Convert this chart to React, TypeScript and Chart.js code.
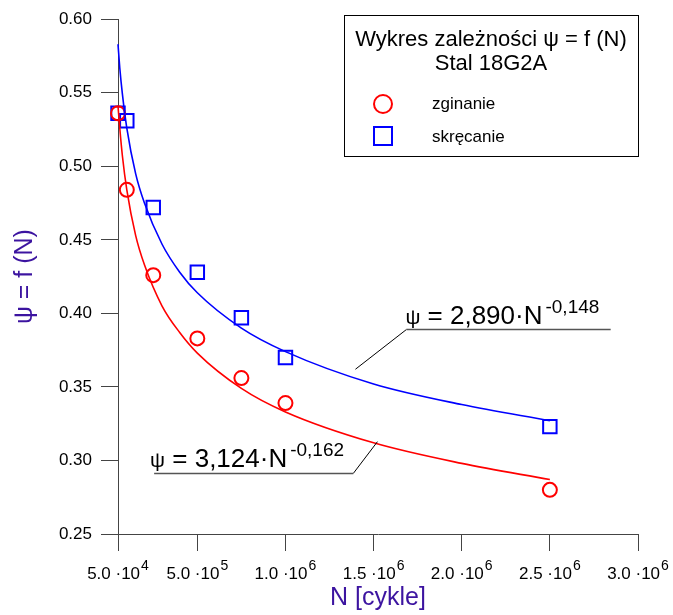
import React, { useEffect, useRef } from 'react';
import { Chart, registerables } from 'chart.js';

Chart.register(...registerables);

const FONT = '"Liberation Sans", Arial, Helvetica, sans-serif';

// X axis ticks (cycles) and their labels
const xTicks = [5e4, 5e5, 1e6, 1.5e6, 2e6, 2.5e6, 3e6];
const xTickMantissa = ['5.0', '5.0', '1.0', '1.5', '2.0', '2.5', '3.0'];
const xTickExp = ['4', '5', '6', '6', '6', '6', '6'];
// Y axis ticks
const yTicks = [0.25, 0.3, 0.35, 0.4, 0.45, 0.5, 0.55, 0.6];

// Measured points
const nPoints = [5e4, 1e5, 2.5e5, 5e5, 7.5e5, 1e6, 2.5e6];
const zginanie = [0.536, 0.484, 0.426, 0.383, 0.356, 0.339, 0.28];
const skrecanie = [0.536, 0.531, 0.472, 0.428, 0.397, 0.37, 0.323];

// Fitted curves
const fitN = [5e4, 6e4, 7.5e4, 1e5, 1.5e5, 2e5, 3e5, 4e5, 5e5, 7.5e5, 1e6, 1.5e6, 2e6, 2.5e6];
const fitZginanie = [0.541, 0.526, 0.507, 0.484, 0.453, 0.433, 0.405, 0.387, 0.373, 0.349, 0.333, 0.312, 0.298, 0.287];
const fitSkrecanie = [0.583, 0.567, 0.549, 0.526, 0.495, 0.475, 0.447, 0.428, 0.414, 0.39, 0.374, 0.352, 0.338, 0.327];

const RED = '#ff0000';
const BLUE = '#0000ff';
const TITLE_COLOR = '#3c14a0';

function drawEquation(ctx: CanvasRenderingContext2D, x: number, baseline: number, coef: string, exp: string) {
  ctx.textAlign = 'left';
  ctx.textBaseline = 'alphabetic';
  ctx.fillStyle = '#000';
  ctx.font = `21px ${FONT}`;
  ctx.fillText('ψ', x, baseline);
  let cx = x + ctx.measureText('ψ').width;
  ctx.font = `26px ${FONT}`;
  const main = ' = ' + coef + '·N';
  ctx.fillText(main, cx, baseline);
  cx += ctx.measureText(main).width + 3;
  ctx.font = `19px ${FONT}`;
  ctx.fillText(exp, cx, baseline - 11);
}

const overlay = {
  id: 'overlay',
  afterDraw(chart: any) {
    const ctx: CanvasRenderingContext2D = chart.ctx;
    const xs = chart.scales.x;
    const ys = chart.scales.y;
    const area = chart.chartArea;
    ctx.save();

    // X tick labels with superscripts
    ctx.fillStyle = '#000';
    ctx.textBaseline = 'alphabetic';
    ctx.textAlign = 'left';
    const base = area.bottom + 45;
    xTicks.forEach((v, i) => {
      const main = xTickMantissa[i] + ' ·10';
      ctx.font = `17px ${FONT}`;
      const w1 = ctx.measureText(main).width;
      ctx.font = `14px ${FONT}`;
      const w2 = ctx.measureText(xTickExp[i]).width;
      const px = xs.getPixelForValue(v);
      const left = px - (w1 + w2 + 1) / 2;
      ctx.font = `17px ${FONT}`;
      ctx.fillText(main, left, base);
      ctx.font = `14px ${FONT}`;
      ctx.fillText(xTickExp[i], left + w1 + 1, base - 9);
    });

    // Axis titles
    ctx.fillStyle = TITLE_COLOR;
    ctx.font = `25px ${FONT}`;
    ctx.textAlign = 'center';
    ctx.textBaseline = 'alphabetic';
    ctx.fillText('N [cykle]', (area.left + area.right) / 2, area.bottom + 71);
    ctx.save();
    ctx.translate(25, (area.top + area.bottom) / 2);
    ctx.rotate(-Math.PI / 2);
    ctx.textBaseline = 'middle';
    ctx.fillText('ψ = f (N)', 0, 0);
    ctx.restore();

    // Legend box
    const lx = 344, ly = 15, lw = area.right - 344, lh = 141;
    ctx.fillStyle = '#fff';
    ctx.fillRect(lx, ly, lw, lh);
    ctx.strokeStyle = '#000';
    ctx.lineWidth = 1;
    ctx.strokeRect(lx + 0.5, ly + 0.5, lw, lh);
    ctx.fillStyle = '#000';
    ctx.textAlign = 'center';
    ctx.font = `22px ${FONT}`;
    const cxL = lx + lw / 2;
    ctx.fillText('Wykres zależności ψ = f (N)', cxL, ly + 31);
    ctx.fillText('Stal 18G2A', cxL, ly + 55);
    ctx.lineWidth = 2;
    ctx.strokeStyle = RED;
    ctx.beginPath();
    ctx.arc(383, ly + 89, 9, 0, Math.PI * 2);
    ctx.stroke();
    ctx.strokeStyle = BLUE;
    ctx.strokeRect(374, ly + 112, 18, 18);
    ctx.fillStyle = '#000';
    ctx.textAlign = 'left';
    ctx.font = `17px ${FONT}`;
    ctx.fillText('zginanie', 432, ly + 94);
    ctx.fillText('skręcanie', 432, ly + 127);

    // Equation annotations
    // blue
    const bTipX = xs.getPixelForValue(1.397e6), bTipY = ys.getPixelForValue(0.362);
    const bElX = xs.getPixelForValue(1.686e6), bElY = ys.getPixelForValue(0.389);
    const bEndX = xs.getPixelForValue(2.845e6);
    ctx.strokeStyle = '#000';
    ctx.lineWidth = 1;
    ctx.beginPath();
    ctx.moveTo(bTipX, bTipY);
    ctx.lineTo(bElX, bElY);
    ctx.stroke();
    ctx.strokeStyle = '#555';
    ctx.lineWidth = 1.5;
    ctx.beginPath();
    ctx.moveTo(bElX, bElY);
    ctx.lineTo(bEndX, bElY);
    ctx.stroke();
    drawEquation(ctx, bElX - 1, bElY - 6, '2,890', '-0,148');

    // red
    const rTipX = xs.getPixelForValue(1.522e6), rTipY = ys.getPixelForValue(0.3128);
    const rElX = xs.getPixelForValue(1.385e6), rElY = ys.getPixelForValue(0.2912);
    const rStartX = xs.getPixelForValue(2.55e5);
    ctx.strokeStyle = '#000';
    ctx.lineWidth = 1;
    ctx.beginPath();
    ctx.moveTo(rTipX, rTipY);
    ctx.lineTo(rElX, rElY);
    ctx.stroke();
    ctx.strokeStyle = '#555';
    ctx.lineWidth = 1.5;
    ctx.beginPath();
    ctx.moveTo(rStartX, rElY);
    ctx.lineTo(rElX, rElY);
    ctx.stroke();
    drawEquation(ctx, xs.getPixelForValue(2.32e5), rElY - 6, '3,124', '-0,162');

    ctx.restore();
  },
};

export default function App() {
  const ref = useRef<HTMLCanvasElement>(null);
  useEffect(() => {
    if (!ref.current) return;
    const chart = new Chart(ref.current, {
      type: 'scatter',
      data: {
        datasets: [
          {
            label: 'fit zginanie',
            data: fitN.map((n, i) => ({ x: n, y: fitZginanie[i] })),
            showLine: true,
            borderColor: RED,
            borderWidth: 1.6,
            pointRadius: 0,
            cubicInterpolationMode: 'monotone',
            clip: false,
          } as any,
          {
            label: 'fit skręcanie',
            data: fitN.map((n, i) => ({ x: n, y: fitSkrecanie[i] })),
            showLine: true,
            borderColor: BLUE,
            borderWidth: 1.6,
            pointRadius: 0,
            cubicInterpolationMode: 'monotone',
            clip: false,
          } as any,
          {
            label: 'zginanie',
            data: nPoints.map((n, i) => ({ x: n, y: zginanie[i] })),
            showLine: false,
            pointStyle: 'circle',
            pointRadius: 7,
            pointBorderWidth: 2,
            pointBorderColor: RED,
            pointBackgroundColor: 'rgba(0,0,0,0)',
            clip: false,
          } as any,
          {
            label: 'skręcanie',
            data: nPoints.map((n, i) => ({ x: n, y: skrecanie[i] })),
            showLine: false,
            pointStyle: 'rect',
            pointRadius: 9.5,
            pointBorderWidth: 2,
            pointBorderColor: BLUE,
            pointBackgroundColor: 'rgba(0,0,0,0)',
            clip: false,
          } as any,
        ],
      },
      options: {
        animation: false,
        responsive: true,
        maintainAspectRatio: false,
        layout: { padding: { top: 16, right: 35, left: 0, bottom: 0 } },
        plugins: { legend: { display: false }, tooltip: { enabled: false } },
        scales: {
          x: {
            type: 'linear',
            min: 5e4,
            max: 3e6,
            afterBuildTicks: (s: any) => {
              s.ticks = xTicks.map((v) => ({ value: v }));
            },
            afterFit: (s: any) => {
              s.height = 81;
            },
            ticks: { display: false },
            grid: { drawOnChartArea: false, drawTicks: true, tickLength: 17, color: '#444', lineWidth: 1 },
            border: { display: true, color: '#444', width: 1 },
          },
          y: {
            type: 'linear',
            min: 0.25,
            max: 0.6,
            afterBuildTicks: (s: any) => {
              s.ticks = yTicks.map((v) => ({ value: v }));
            },
            afterFit: (s: any) => {
              s.width = 118;
            },
            ticks: {
              color: '#000',
              padding: 9,
              font: { family: FONT, size: 17 },
              callback: (v: any) => Number(v).toFixed(2),
            },
            grid: { drawOnChartArea: false, drawTicks: true, tickLength: 17, color: '#444', lineWidth: 1 },
            border: { display: true, color: '#444', width: 1 },
          },
        },
      } as any,
      plugins: [overlay],
    });
    return () => chart.destroy();
  }, []);
  return (
    <div style={{ position: 'absolute', left: 0, top: 0, width: 673, height: 615, background: '#fff' }}>
      <canvas ref={ref} />
    </div>
  );
}
